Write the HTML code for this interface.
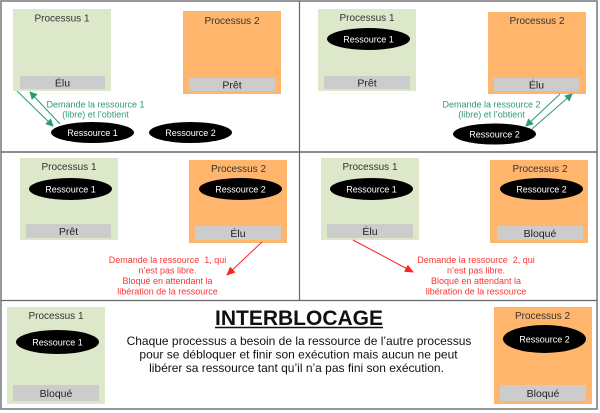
<!DOCTYPE html>
<html><head><meta charset="utf-8"><style>
html,body{margin:0;padding:0;background:#fff;width:600px;height:413px;overflow:hidden}
svg{display:block}
text{font-family:"Liberation Sans",sans-serif}
.p{font-size:10px;fill:#333;text-anchor:middle}
.s{font-size:10.5px;fill:#222;text-anchor:middle}
.r{font-size:9px;fill:#fff;text-anchor:middle}
.g{font-size:9px;fill:#2e9a75;text-anchor:middle}
.d{font-size:9px;fill:#ff3333;text-anchor:middle}
</style></head><body>
<svg width="600" height="413" viewBox="0 0 600 413" xmlns="http://www.w3.org/2000/svg">
<defs>
<marker id="ag" markerWidth="8" markerHeight="8" refX="7" refY="4" orient="auto" markerUnits="userSpaceOnUse"><path d="M0,0 L8,4 L0,8 z" fill="#2e9a75"/></marker>
<marker id="ar" markerWidth="9" markerHeight="8" refX="8" refY="4" orient="auto" markerUnits="userSpaceOnUse"><path d="M0,0 L9,4 L0,8 z" fill="#ff2222"/></marker>
</defs>
<!-- borders -->
<rect x="1" y="1" width="596" height="408" fill="none" stroke="#777" stroke-width="1.5"/>
<line x1="1" y1="152" x2="597" y2="152" stroke="#666" stroke-width="1.5"/>
<line x1="299.5" y1="1" x2="299.5" y2="300.5" stroke="#666" stroke-width="1.2"/>
<line x1="1" y1="300.5" x2="597" y2="300.5" stroke="#666" stroke-width="1.2"/>

<!-- Panel 1 -->
<rect x="13" y="9" width="98" height="82" fill="#dde8cb"/>
<text class="p" x="62" y="21.5">Processus 1</text>
<rect x="20" y="76" width="85" height="13" fill="#cccccc"/>
<text class="s" x="62.5" y="86.5">Élu</text>
<rect x="183" y="11" width="98" height="83" fill="#ffb66c"/>
<text class="p" x="232" y="24">Processus 2</text>
<rect x="189" y="78" width="86" height="13" fill="#cccccc"/>
<text class="s" x="232" y="88.5">Prêt</text>
<ellipse cx="92.5" cy="132.5" rx="41.5" ry="10.5" fill="#000"/>
<text class="r" x="92.5" y="136">Ressource 1</text>
<ellipse cx="190.5" cy="132.5" rx="41.5" ry="10.5" fill="#000"/>
<text class="r" x="190.5" y="136">Ressource 2</text>
<line x1="17" y1="91" x2="53" y2="126" stroke="#2e9a75" stroke-width="1" marker-end="url(#ag)"/>
<line x1="60" y1="124" x2="30" y2="92" stroke="#2e9a75" stroke-width="1" marker-end="url(#ag)"/>
<text class="g" x="95.5" y="107.5">Demande la ressource 1</text>
<text class="g" x="95.5" y="117.5">(libre) et l’obtient</text>

<!-- Panel 2 -->
<rect x="318" y="9" width="98" height="82" fill="#dde8cb"/>
<text class="p" x="367" y="21">Processus 1</text>
<ellipse cx="368.5" cy="39" rx="41.5" ry="11" fill="#000"/>
<text class="r" x="368.5" y="42.5">Ressource 1</text>
<rect x="324" y="76" width="86" height="13" fill="#cccccc"/>
<text class="s" x="367" y="86.5">Prêt</text>
<rect x="488" y="12" width="98" height="82" fill="#ffb66c"/>
<text class="p" x="537" y="24">Processus 2</text>
<rect x="494" y="78" width="85" height="13" fill="#cccccc"/>
<text class="s" x="536.5" y="88.5">Élu</text>
<ellipse cx="494.5" cy="134" rx="41.5" ry="10.5" fill="#000"/>
<text class="r" x="494.5" y="137.5">Ressource 2</text>
<line x1="560" y1="94" x2="526" y2="126" stroke="#2e9a75" stroke-width="1" marker-end="url(#ag)"/>
<line x1="532" y1="129" x2="572" y2="94" stroke="#2e9a75" stroke-width="1" marker-end="url(#ag)"/>
<text class="g" x="491.5" y="107.5">Demande la ressource 2</text>
<text class="g" x="491.5" y="117.5">(libre) et l’obtient</text>

<!-- Panel 3 -->
<rect x="20" y="158" width="98" height="82" fill="#dde8cb"/>
<text class="p" x="69" y="170">Processus 1</text>
<ellipse cx="70.5" cy="189" rx="41.5" ry="11" fill="#000"/>
<text class="r" x="70.5" y="192.5">Ressource 1</text>
<rect x="26" y="224" width="85" height="14" fill="#cccccc"/>
<text class="s" x="68.5" y="235">Prêt</text>
<rect x="189" y="160" width="98" height="83" fill="#ffb66c"/>
<text class="p" x="238.5" y="172">Processus 2</text>
<ellipse cx="240.5" cy="189" rx="41.5" ry="11" fill="#000"/>
<text class="r" x="240.5" y="192.5">Ressource 2</text>
<rect x="195" y="226" width="86" height="14" fill="#cccccc"/>
<text class="s" x="238" y="237">Élu</text>
<line x1="262" y1="242" x2="227" y2="275" stroke="#ff2222" stroke-width="1" marker-end="url(#ar)"/>
<text class="d" x="167.5" y="263">Demande la ressource &#160;1, qui</text>
<text class="d" x="167.5" y="273.5">n’est pas libre.</text>
<text class="d" x="167.5" y="284">Bloqué en attendant la</text>
<text class="d" x="167.5" y="294.5">libération de la ressource</text>

<!-- Panel 4 -->
<rect x="321" y="158" width="98" height="82" fill="#dde8cb"/>
<text class="p" x="370" y="170">Processus 1</text>
<ellipse cx="371.5" cy="189" rx="41.5" ry="11" fill="#000"/>
<text class="r" x="371.5" y="192.5">Ressource 1</text>
<rect x="327" y="224" width="86" height="14" fill="#cccccc"/>
<text class="s" x="370" y="235">Élu</text>
<rect x="490" y="160" width="98" height="83" fill="#ffb66c"/>
<text class="p" x="540" y="172">Processus 2</text>
<ellipse cx="541.5" cy="189" rx="41.5" ry="11" fill="#000"/>
<text class="r" x="541.5" y="192.5">Ressource 2</text>
<rect x="497" y="226" width="86" height="14" fill="#cccccc"/>
<text class="s" x="540" y="237">Bloqué</text>
<line x1="353" y1="240" x2="413" y2="272" stroke="#ff2222" stroke-width="1" marker-end="url(#ar)"/>
<text class="d" x="476" y="263">Demande la ressource &#160;2, qui</text>
<text class="d" x="476" y="273.5">n’est pas libre.</text>
<text class="d" x="476" y="284">Bloqué en attendant la</text>
<text class="d" x="476" y="294.5">libération de la ressource</text>

<!-- Bottom -->
<rect x="7" y="307" width="98" height="97" fill="#dde8cb"/>
<text class="p" x="56" y="319">Processus 1</text>
<ellipse cx="57.5" cy="342" rx="41.5" ry="12" fill="#000"/>
<text class="r" x="57.5" y="345.5">Ressource 1</text>
<rect x="13" y="385" width="86" height="16" fill="#cccccc"/>
<text class="s" x="56" y="397">Bloqué</text>
<rect x="494" y="307" width="98" height="97" fill="#ffb66c"/>
<text class="p" x="542.5" y="319">Processus 2</text>
<ellipse cx="544.5" cy="339" rx="41.5" ry="14" fill="#000"/>
<text class="r" x="544.5" y="342.5">Ressource 2</text>
<rect x="500" y="385" width="86" height="16" fill="#cccccc"/>
<text class="s" x="543" y="397">Bloqué</text>

<text x="299" y="325" text-anchor="middle" font-size="21" font-weight="bold" fill="#111">INTERBLOCAGE</text>
<line x1="215" y1="327.5" x2="383" y2="327.5" stroke="#111" stroke-width="1.5"/>
<text x="299" y="345" text-anchor="middle" font-size="12" fill="#111">Chaque processus a besoin de la ressource de l’autre processus</text>
<text x="298.5" y="358.5" text-anchor="middle" font-size="12" fill="#111">pour se débloquer et finir son exécution mais aucun ne peut</text>
<text x="296.5" y="372" text-anchor="middle" font-size="12" fill="#111">libérer sa ressource tant qu’il n’a pas fini son exécution.</text>
</svg>
</body></html>
